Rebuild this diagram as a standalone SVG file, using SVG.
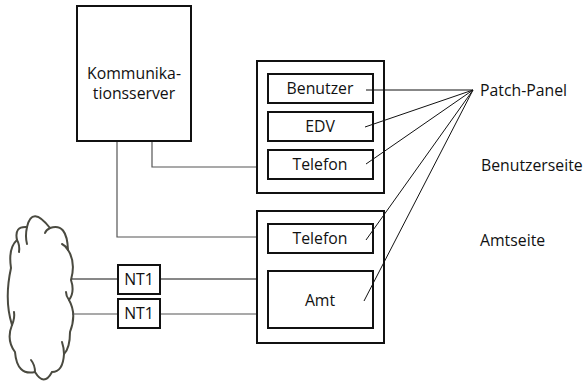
<svg xmlns="http://www.w3.org/2000/svg" width="584" height="381" viewBox="0 0 584 381">
<style>
.box{fill:#fff;stroke:#111;stroke-width:2}
.ln{fill:none;stroke:#555;stroke-width:1.2}
.pl{fill:none;stroke:#111;stroke-width:1}
.cl{fill:none;stroke:#4a4a40;stroke-width:2;stroke-linecap:round}
text{font-family:"Open Sans","DejaVu Sans",sans-serif;font-size:15.8px;fill:#111}
.c{text-anchor:middle}
</style>
<rect width="584" height="381" fill="#fff"/>
<g id="server">
<rect class="box" x="77" y="6" width="114" height="135"/>
<text class="c" x="134" y="79">Kommunika-</text>
<text class="c" x="134" y="99">tionsserver</text>
</g>
<g id="panel-user">
<rect class="box" x="257" y="61" width="127" height="132"/>
</g>
<g id="benutzer">
<rect class="box" x="268" y="74" width="105" height="29"/>
<text class="c" x="320" y="94">Benutzer</text>
</g>
<g id="edv">
<rect class="box" x="268" y="112" width="105" height="29"/>
<text class="c" x="320" y="132">EDV</text>
</g>
<g id="telefon1">
<rect class="box" x="268" y="150" width="105" height="29"/>
<text class="c" x="320" y="170">Telefon</text>
</g>
<g id="panel-amt">
<rect class="box" x="257" y="211" width="127" height="132"/>
</g>
<g id="telefon2">
<rect class="box" x="268" y="224" width="105" height="29"/>
<text class="c" x="320" y="244">Telefon</text>
</g>
<g id="amt">
<rect class="box" x="268" y="271" width="105" height="57"/>
<text class="c" x="320" y="306">Amt</text>
</g>
<g id="nt1a">
<rect class="box" x="118" y="265" width="42" height="29"/>
<text class="c" x="139" y="285">NT1</text>
</g>
<g id="nt1b">
<rect class="box" x="118" y="299" width="42" height="29"/>
<text class="c" x="139" y="319">NT1</text>
</g>
<g id="cloud">
<path class="cl" fill="#fff" style="fill:#fff" d="M27,227 Q32,205 50,228 Q67,222 68,250 Q76,262 71,280 Q75,292 69,300 Q77,314 70,332 Q70,348 64,354 Q63,372 52,372 Q44,387 35,372 Q17,376 15,352 Q6,340 12,325 Q4,300 11,268 Q8,248 17,240 Q14,226 27,227 Z"/>
<path class="cl" d="M27,227 Q25,236 27,244"/>
<path class="cl" d="M50,228 Q46,230 45,233"/>
<path class="cl" d="M68,250 Q66,246 62,244"/>
<path class="cl" d="M69,300 Q66,296 66,292"/>
<path class="cl" d="M64,354 Q64,348 62,342"/>
<path class="cl" d="M35,372 Q35,365 31,360"/>
<path class="cl" d="M12,325 Q15,318 14,312"/>
<path class="cl" d="M17,240 Q20,245 19,252"/>
</g>
<g id="connectors">
<polyline class="ln" points="152,142 152,167 256,167"/>
<polyline class="ln" points="117,142 117,237 256,237"/>
<line class="pl" x1="72" y1="279" x2="117" y2="279"/>
<line class="pl" x1="161" y1="279" x2="256" y2="279"/>
<line class="ln" x1="72" y1="314" x2="117" y2="314"/>
<line class="ln" x1="161" y1="314" x2="256" y2="314"/>
<line class="pl" x1="366" y1="90" x2="473" y2="90"/>
<line class="pl" x1="365" y1="127" x2="473" y2="90"/>
<line class="pl" x1="366" y1="164" x2="473" y2="90"/>
<line class="pl" x1="366" y1="240" x2="473" y2="90"/>
<line class="pl" x1="364" y1="301" x2="473" y2="90"/>
</g>
<g id="labels">
<text x="480" y="96">Patch-Panel</text>
<text x="481" y="171">Benutzerseite</text>
<text x="480" y="246">Amtseite</text>
</g>
</svg>
